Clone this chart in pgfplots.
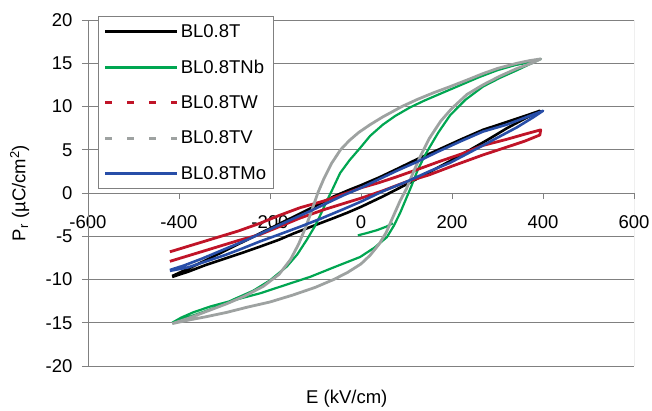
\documentclass[border=0pt]{standalone}
\usepackage{fontspec}
\setmainfont{Liberation Sans}
\usepackage{pgfplots}
\pgfplotsset{compat=1.18}
\definecolor{cgreen}{RGB}{0,166,81}
\definecolor{cred}{RGB}{192,20,40}
\definecolor{cgray}{RGB}{158,162,161}
\definecolor{cblue}{RGB}{40,78,168}
\definecolor{axgray}{RGB}{128,128,128}
\newcommand{\cf}{\fontsize{18.5bp}{22bp}\selectfont}
\begin{document}
\begin{tikzpicture}
\useasboundingbox (-88bp,-45bp) rectangle (564bp,366bp);
\begin{axis}[
  at={(0,0)}, anchor=south west,
  scale only axis, width=546bp, height=346bp,
  xmin=-600, xmax=600, ymin=-20, ymax=20,
  axis x line*=middle, axis y line*=left,
  hide obscured x ticks=false, hide obscured y ticks=false,
  xtick={-600,-400,...,600}, ytick={-20,-15,...,20},
  tick align=outside, major tick length=6bp,
  axis line style={axgray, line width=0.9bp},
  tick style={axgray, line width=0.9bp},
  ymajorgrids, grid style={axgray, line width=0.9bp},
  /pgf/number format/assume math mode=true,
  tick label style={font=\cf, text=black},
  xticklabel style={yshift=-13bp},
  yticklabel style={xshift=-6bp},
  label style={font=\cf},
  xlabel={E (kV/cm)},
  xlabel style={at={(axis description cs:0.474,-0.107)}, anchor=base},
  ylabel={P\textsubscript{r} (µC/cm\textsuperscript{2})},
  ylabel style={at={(axis description cs:-0.125,0.5)}, anchor=center},
  legend cell align=left,
  legend image code/.code={\draw[#1] (0bp,0bp) -- (72bp,0bp);},
  legend style={at={(0.018,1.012)}, anchor=north west, draw=axgray, line width=0.9bp,
    fill=white, font=\cf, inner xsep=5.5bp, inner ysep=6bp, row sep=17bp,
    nodes={inner xsep=2bp, inner ysep=2bp}},
]
\draw[axgray, line width=0.9bp] (rel axis cs:0,0) rectangle (rel axis cs:1,1);
% BL0.8T
\addplot[forget plot, black, line width=2.6bp, line join=round] coordinates {
(-415,-9.7) (-380,-9.1) (-340,-8.3) (-300,-7.6) (-260,-6.9) (-222,-6.2) (-180,-5.4) (-149,-4.7) (-100,-3.7) (-60,-2.9) (-31,-2.3) (0,-1.6) (48,-0.4) (100,1.0) (150,2.4) (196,3.7) (240,5.0) (280,6.2) (321,7.5) (360,8.6) (393,9.5)
(360,8.9) (320,8.2) (268,7.3) (220,6.2) (170,5.0) (123,3.9) (80,2.8) (40,1.8) (0,0.9) (-24,0.4) (-60,-0.4) (-100,-1.5) (-150,-2.8) (-200,-4.1) (-250,-5.4) (-300,-6.7) (-350,-8.0) (-390,-9.0) (-415,-9.6)
};
% BL0.8TNb
\addplot[forget plot, cgreen, line width=2.2bp, line join=round] coordinates {
(-415,-15.0) (-395,-14.4) (-369,-13.8) (-330,-13.1) (-280,-12.4) (-222,-11.6) (-170,-10.7) (-112,-9.7) (-60,-8.6) (-2,-7.4) (30,-6.3) (57,-5.1) (72,-3.8) (86,-2.3) (98,-0.8) (110,0.7) (125,2.7) (140,4.3) (152,5.4) (170,7.0) (196,9.0) (230,10.8) (268,12.3) (305,13.3) (343,14.2) (375,15.0) (395,15.5)
(370,15.1) (340,14.8) (300,14.2) (260,13.4) (220,12.5) (180,11.6) (140,10.7) (108,9.9) (75,8.9) (48,7.9) (20,6.6) (-2,5.2) (-25,3.8) (-46,2.3) (-62,0.5) (-75,-0.9) (-88,-2.4) (-102,-3.9) (-119,-5.4) (-140,-7.1) (-163,-8.5) (-200,-10.1) (-237,-11.3) (-280,-12.3) (-317,-13.2) (-360,-14.0) (-398,-14.7) (-415,-15.0)
};
\addplot[forget plot, cgreen, line width=2.2bp, line join=round] coordinates {
(-7,-4.9) (15,-4.6) (35,-4.3) (55,-3.9) (70,-3.5)
};
% BL0.8TW
\addplot[forget plot, cred, line width=2.8bp, line join=round] coordinates {
(-420,-7.9) (-370,-7.1) (-320,-6.3) (-270,-5.5) (-222,-4.8) (-180,-3.9) (-134,-2.9) (-80,-1.9) (-31,-1.1) (0,-0.6) (50,0.3) (100,1.3) (150,2.1) (200,3.1) (268,4.4) (320,5.3) (360,6.0) (393,6.7)
(395,7.3) (360,6.8) (320,6.2) (268,5.5) (220,4.5) (170,3.6) (123,2.7) (80,1.9) (40,1.2) (0,0.6) (-31,0.0) (-80,-0.9) (-134,-1.7) (-180,-2.6) (-222,-3.5) (-270,-4.4) (-320,-5.2) (-370,-6.0) (-420,-6.8)
};
% BL0.8TV
\addplot[forget plot, cgray, line width=2.8bp, line join=round] coordinates {
(-415,-15.1) (-380,-14.7) (-340,-14.3) (-295,-13.8) (-250,-13.2) (-200,-12.6) (-150,-11.8) (-100,-10.9) (-60,-10.0) (-30,-9.2) (0,-8.2) (20,-7.2) (40,-5.9) (55,-4.6) (70,-2.8) (86,-0.9) (100,0.5) (115,2.4) (130,4.2) (150,6.3) (175,8.3) (200,9.8) (233,11.4) (268,12.5) (305,13.5) (343,14.4) (375,15.0) (395,15.5)
(370,15.3) (343,15.0) (300,14.4) (268,13.8) (230,13.0) (196,12.3) (160,11.6) (123,10.8) (90,10.0) (48,8.8) (20,7.9) (-5,7.0) (-25,6.1) (-45,5.0) (-65,3.4) (-82,1.6) (-95,0.0) (-108,-2.0) (-122,-4.0) (-137,-5.9) (-155,-7.7) (-180,-9.4) (-215,-10.8) (-255,-11.9) (-295,-12.8) (-340,-13.7) (-380,-14.5) (-415,-15.1)
};
% BL0.8TMo
\addplot[forget plot, cblue, line width=2.6bp, line join=round] coordinates {
(-420,-9.0) (-380,-8.6) (-340,-7.9) (-300,-7.2) (-260,-6.4) (-222,-5.6) (-180,-4.8) (-134,-3.9) (-90,-3.0) (-40,-1.9) (0,-1.0) (48,0.2) (100,1.3) (150,2.5) (196,3.5) (250,5.0) (300,6.4) (343,7.6) (380,8.8) (400,9.5)
(360,8.7) (320,7.9) (268,7.1) (220,6.0) (170,4.8) (123,3.6) (80,2.6) (40,1.6) (0,0.6) (-40,-0.3) (-112,-2.1) (-150,-3.0) (-200,-4.2) (-250,-5.4) (-300,-6.5) (-350,-7.6) (-390,-8.4) (-420,-8.9)
};
\addlegendimage{black, line width=3bp}
\addlegendentry{BL0.8T}
\addlegendimage{cgreen, line width=3bp}
\addlegendentry{BL0.8TNb}
\addlegendimage{cred, line width=3bp, dash pattern=on 7bp off 15bp}
\addlegendentry{BL0.8TW}
\addlegendimage{cgray, line width=3bp, dash pattern=on 7bp off 15bp}
\addlegendentry{BL0.8TV}
\addlegendimage{cblue, line width=3bp}
\addlegendentry{BL0.8TMo}
\end{axis}
\end{tikzpicture}
\end{document}
